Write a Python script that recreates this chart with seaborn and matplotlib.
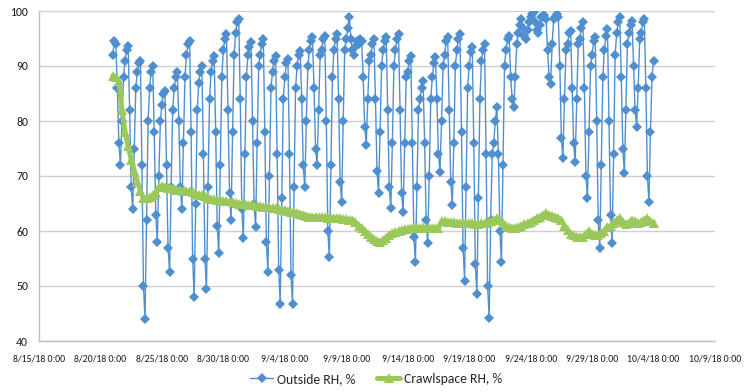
import matplotlib
matplotlib.use("Agg")
import matplotlib.pyplot as plt
import pandas as pd
import seaborn as sns

# ---------------- data ----------------
outside_start = "2018-08-21 00:00"
outside_step = "3h"
# one row per day: 0h,3h,6h,9h,12h,15h,18h,21h
outside_rh = [
    92, 94.5, 94, 86, 76, 72, 80, 88,          # 8/21
    91, 93, 93.6, 82, 68, 64, 75, 86,          # 8/22
    89, 90.5, 91, 72, 50, 44, 62, 80,          # 8/23
    86, 89, 90, 78, 63, 58, 70, 80,            # 8/24
    83, 85, 85.5, 72, 57, 52.5, 68, 82,        # 8/25
    86, 88, 89, 80, 68, 64, 76, 88,            # 8/26
    92, 94, 94.5, 78, 55, 48, 65, 82,          # 8/27
    87, 89, 90, 74, 55, 49.5, 68, 84,          # 8/28
    89, 91, 91.8, 78, 61, 56, 72, 88,          # 8/29
    93, 95, 95.8, 82, 67, 62, 78, 92,          # 8/30
    96, 98, 98.5, 84, 64, 58.7, 74, 88,        # 8/31
    92, 93.5, 94.3, 80, 65, 60.7, 76, 90,      # 9/1
    92, 94, 94.9, 78, 58, 52.5, 70, 86,        # 9/2
    89, 91, 91.8, 74, 53, 46.8, 66, 84,        # 9/3
    88, 90.5, 91.2, 74, 52, 46.8, 68, 86,      # 9/4
    90, 92, 92.7, 84, 72, 68, 80, 90,          # 9/5
    93, 94.5, 95.2, 86, 75, 72, 82, 92,        # 9/6
    93, 95, 95.4, 80, 60, 55.2, 72, 88,        # 9/7
    93, 95, 95.8, 84, 69, 65.3, 80, 93,        # 9/8
    95, 97, 98.9, 95, 93, 92, 93.5, 94.5,      # 9/9
    94, 95, 94.5, 88, 79, 75.7, 84, 91,        # 9/10
    92, 94, 94.9, 84, 71, 67, 78, 90,          # 9/11
    93, 94.5, 95.2, 82, 68, 64.2, 76, 90,      # 9/12
    93, 95, 95.8, 82, 67, 63.4, 76, 88,        # 9/13
    89, 91, 91.8, 76, 59, 54.3, 68, 82,        # 9/14
    84, 86, 87.2, 76, 62, 57.8, 70, 84,        # 9/15
    88, 90.5, 91.6, 84, 74, 70.7, 80, 90,      # 9/16
    92, 94.5, 95.2, 82, 69, 64.7, 76, 90,      # 9/17
    93, 95, 95.8, 78, 57, 51, 68, 86,          # 9/18
    90, 92.5, 93.4, 76, 54, 48.6, 66, 84,      # 9/19
    91, 93, 94, 74, 50, 44.2, 62, 74,          # 9/20
    76, 80, 82.5, 74, 60, 54.3, 72, 90,        # 9/21
    93, 95, 95.4, 88, 84, 82.5, 88, 94,        # 9/22
    96, 97.5, 98.5, 97, 95.5, 95, 96.5, 98,    # 9/23
    99, 99.5, 99.8, 98, 96.5, 96, 97.5, 99,    # 9/24
    99, 99.3, 98.5, 93, 88, 86.7, 94, 98.5,    # 9/25
    99, 99.5, 99, 90, 77, 73.3, 84, 93,        # 9/26
    94, 96, 96.3, 86, 76, 72.6, 84, 94,        # 9/27
    95, 97, 98, 86, 70, 66, 78, 90,            # 9/28
    92, 94.5, 95.2, 80, 62, 57, 72, 88,        # 9/29
    93, 95.5, 96.7, 80, 63, 57.8, 74, 92,      # 9/30
    96, 98, 99, 88, 75, 70.5, 82, 94,          # 10/1
    96, 97.5, 98.2, 90, 82, 79, 86, 95,        # 10/2
    96, 98, 98.5, 86, 70, 65.3, 78, 88,        # 10/3
    91,                                        # 10/4 0h
]

crawl_start = "2018-08-21 00:00"
crawl_step = "6h"
# one row per day: 0h,6h,12h,18h
crawl_rh = [
    88.2, 88, 87.2, 82,
    78, 75.5, 73, 71,
    69, 67.3, 66, 66,
    66.2, 66.5, 67, 68,
    68.2, 68, 67.8, 67.8,
    67.6, 67.5, 67.5, 67.3,
    67.3, 67.2, 67.1, 66.8,
    66.6, 66.5, 66.3, 66.0,
    65.9, 65.8, 65.7, 65.6,
    65.5, 65.4, 65.4, 65.2,
    65.1, 65.0, 65.0, 64.9,
    64.8, 64.7, 64.7, 64.6,
    64.5, 64.4, 64.4, 64.3,
    64.2, 64.1, 64.0, 63.9,
    63.8, 63.7, 63.5, 63.4,
    63.3, 63.1, 63.0, 62.8,
    62.6, 62.6, 62.6, 62.5,
    62.5, 62.5, 62.4, 62.4,
    62.4, 62.3, 62.3, 62.2,
    62.1, 62.0, 62.0, 61.6,
    61.0, 60.5, 60.0, 59.5,
    59.0, 58.5, 58.2, 58.0,
    58.3, 58.8, 59.3, 59.6,
    59.8, 60.0, 60.2, 60.3,
    60.4, 60.5, 60.5, 60.6,
    60.6, 60.7, 60.6, 60.5,
    60.5, 60.6, 60.5, 61.8,
    61.8, 61.7, 61.6, 61.6,
    61.5, 61.5, 61.5, 61.4,
    61.4, 61.4, 61.3, 61.3,
    61.4, 61.5, 61.6, 61.8,
    62.0, 62.3, 62.0, 61.5,
    61.0, 60.7, 60.5, 60.6,
    60.8, 61.0, 61.2, 61.5,
    61.7, 62.0, 62.3, 62.6,
    62.9, 63.2, 63.0, 62.8,
    62.6, 62.3, 62.0, 61.0,
    60.2, 59.5, 59.2, 59.0,
    58.9, 58.9, 59.5, 60.0,
    59.5, 59.2, 59.3, 59.6,
    60.0, 60.7, 61.0, 61.5,
    62.0, 62.3, 61.6, 61.3,
    61.5, 62.0, 61.8, 61.5,
    61.6, 62.0, 62.3, 61.8,
    61.5,
]

tick_dates = ["2018-08-15", "2018-08-20", "2018-08-25", "2018-08-30",
              "2018-09-04", "2018-09-09", "2018-09-14", "2018-09-19",
              "2018-09-24", "2018-09-29", "2018-10-04", "2018-10-09"]
tick_labels = ["8/15/18 0:00", "8/20/18 0:00", "8/25/18 0:00", "8/30/18 0:00",
               "9/4/18 0:00", "9/9/18 0:00", "9/14/18 0:00", "9/19/18 0:00",
               "9/24/18 0:00", "9/29/18 0:00", "10/4/18 0:00", "10/9/18 0:00"]
y_ticks = [40, 50, 60, 70, 80, 90, 100]

series_names = ["Outside RH, %", "Crawlspace RH, %"]

# ---------------- build tables ----------------
df_out = pd.DataFrame({
    "time": pd.date_range(outside_start, periods=len(outside_rh), freq=outside_step),
    "rh": outside_rh,
})
df_crawl = pd.DataFrame({
    "time": pd.date_range(crawl_start, periods=len(crawl_rh), freq=crawl_step),
    "rh": crawl_rh,
})

# ---------------- style ----------------
sns.set_theme(style="white")
plt.rcParams["font.family"] = ["Carlito", "Liberation Sans Narrow",
                               "DejaVu Sans Condensed", "Liberation Sans", "DejaVu Sans"]

BLUE = "#4F8FCF"
GREEN = "#9BC85B"

fig = plt.figure(figsize=(7.46, 3.92), dpi=100)
ax = fig.add_axes([39 / 746, 51 / 392, (715 - 39) / 746, (341 - 11) / 392])

sns.lineplot(data=df_out, x="time", y="rh", ax=ax, color=BLUE, linewidth=1.0,
             marker="D", markersize=4.8, markeredgewidth=0, label=series_names[0],
             zorder=3)
sns.lineplot(data=df_crawl, x="time", y="rh", ax=ax, color=GREEN, linewidth=3.6,
             marker="^", markersize=6.5, markeredgewidth=0, label=series_names[1],
             zorder=4)

ax.set_xlim(pd.Timestamp(tick_dates[0]), pd.Timestamp(tick_dates[-1]))
ax.set_ylim(y_ticks[0], y_ticks[-1])
ax.set_xticks([pd.Timestamp(d) for d in tick_dates])
ax.set_xticklabels(tick_labels, fontsize=7.0, color="#1a1a1a")
ax.set_yticks(y_ticks)
ax.set_yticklabels([str(v) for v in y_ticks], fontsize=8.5, color="#1a1a1a")
ax.set_xlabel("")
ax.set_ylabel("")

ax.yaxis.grid(True, color="#CFCFCF", linewidth=1.0)
ax.xaxis.grid(False)
ax.set_axisbelow(True)
for s in ["top", "right"]:
    ax.spines[s].set_visible(False)
for s in ["left", "bottom"]:
    ax.spines[s].set_color("#BFBFBF")
    ax.spines[s].set_linewidth(1.0)
ax.tick_params(axis="x", length=5, width=1, color="#BFBFBF", direction="out", pad=5)
ax.tick_params(axis="y", length=5, width=1, color="#CFCFCF", direction="out", pad=3)

ax.get_legend().remove()
handles, labels = ax.get_legend_handles_labels()
fig.legend(handles, labels, loc="center", bbox_to_anchor=(376 / 746, 1 - 379 / 392),
           ncol=2, frameon=False, fontsize=9.8, handlelength=1.7,
           columnspacing=1.6, handletextpad=0.25)

fig.savefig("out.png", dpi=100)
